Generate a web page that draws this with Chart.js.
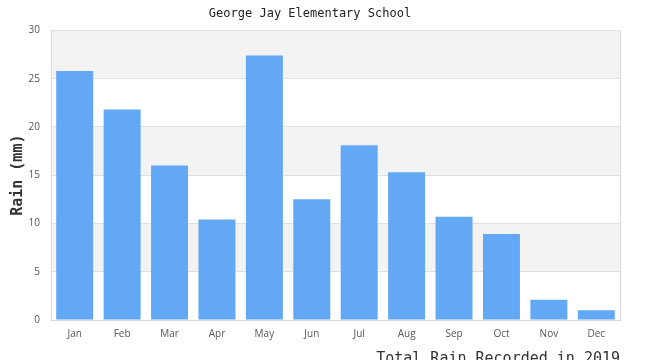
<!DOCTYPE html>
<html>
<head>
<meta charset="utf-8">
<script src="https://cdn.jsdelivr.net/npm/chart.js@4"></script>
<style>
html,body{margin:0;padding:0;overflow:hidden;background:#fff;}
#wrap{width:650px;height:368px;position:relative;}
</style>
</head>
<body>
<div id="wrap"><canvas id="c"></canvas></div>
<script>
const categories = ["Jan","Feb","Mar","Apr","May","Jun","Jul","Aug","Sep","Oct","Nov","Dec"];
const rainValues = [25.8, 21.8, 16.0, 10.4, 27.4, 12.5, 18.1, 15.3, 10.7, 8.9, 2.1, 1.0];
const chartTitle = "George Jay Elementary School";
const yTitle = "Rain (mm)";
const xTitle = "Total Rain Recorded in 2019";

const bandsPlugin = {
  id: 'bands',
  beforeDraw(chart) {
    const {ctx, chartArea: a, scales: {y}} = chart;
    ctx.save();
    ctx.fillStyle = '#fff';
    ctx.fillRect(0, 0, chart.width, chart.height);
    const ticks = y.ticks.map(t => t.value).sort((p, q) => q - p);
    for (let i = 0; i < ticks.length - 1; i++) {
      if (i % 2 === 0) {
        const top = y.getPixelForValue(ticks[i]);
        const bot = y.getPixelForValue(ticks[i + 1]);
        ctx.fillStyle = '#f3f3f3';
        ctx.fillRect(a.left, top, a.right - a.left, bot - top);
      }
    }
    ctx.restore();
  },
  afterDraw(chart) {
    const {ctx, chartArea: a} = chart;
    ctx.save();
    ctx.strokeStyle = '#d9d9d9';
    ctx.lineWidth = 1;
    ctx.beginPath();
    ctx.moveTo(Math.round(a.right) + 0.5, a.top);
    ctx.lineTo(Math.round(a.right) + 0.5, a.bottom);
    ctx.stroke();
    ctx.restore();
  }
};

new Chart(document.getElementById('c'), {
  type: 'bar',
  data: {
    labels: categories,
    datasets: [{
      data: rainValues,
      backgroundColor: '#62a8f5',
      borderWidth: 0,
      categoryPercentage: 1.0,
      barPercentage: 0.78
    }]
  },
  options: {
    responsive: true,
    maintainAspectRatio: false,
    animation: false,
    layout: { padding: { left: 0, right: 30, top: 0, bottom: 0 } },
    plugins: {
      legend: { display: false },
      tooltip: { enabled: false },
      title: {
        display: true,
        text: chartTitle,
        color: '#222',
        font: { family: 'DejaVu Sans Mono', size: 12, weight: 'normal' },
        padding: { top: 7, bottom: 9 }
      }
    },
    scales: {
      x: {
        grid: { display: false, drawTicks: false },
        border: { display: true, color: '#d9d9d9' },
        ticks: { color: '#555', font: { family: 'Open Sans', size: 10 }, padding: 8 },
        title: {
          display: true,
          text: xTitle,
          align: 'end',
          color: '#333',
          font: { family: 'DejaVu Sans Mono', size: 15, weight: 'normal' },
          padding: { top: 2, bottom: 0 }
        }
      },
      y: {
        min: 0,
        max: 30,
        afterFit(scale) { scale.width = 51; },
        grid: { color: '#e0e0e0', drawTicks: false },
        border: { display: true, color: '#d9d9d9' },
        ticks: { stepSize: 5, color: '#555', font: { family: 'Open Sans', size: 10 }, padding: 11 },
        title: {
          display: true,
          text: yTitle,
          color: '#333',
          font: { family: 'DejaVu Sans Mono', size: 15, weight: 'bold' },
          padding: { top: 9, bottom: 4 }
        }
      }
    }
  },
  plugins: [bandsPlugin]
});
</script>
</body>
</html>
